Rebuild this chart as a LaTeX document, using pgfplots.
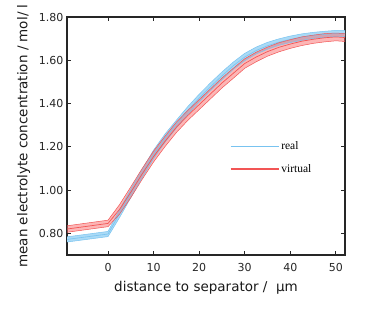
\documentclass[border=0pt]{standalone}
\usepackage{pgfplots}
\pgfplotsset{compat=1.18}
\usepackage{pgfplotstable}
\usepgfplotslibrary{fillbetween}
\usepackage{fontspec}
\setmainfont{DejaVu Sans}
\newfontfamily\legfont{Liberation Serif}
\definecolor{rblue}{RGB}{120,195,240}
\definecolor{rbluefill}{RGB}{170,218,246}
\definecolor{vred}{RGB}{242,85,85}
\definecolor{vredfill}{RGB}{250,110,110}
\pgfplotstableread{
x rc rl ru
-9 0.772 0.760 0.784
0 0.797 0.785 0.809
2.5 0.890 0.872 0.908
5 0.985 0.965 1.005
7.5 1.077 1.057 1.097
10 1.165 1.145 1.185
12.5 1.240 1.221 1.259
15 1.305 1.287 1.323
17.5 1.368 1.350 1.386
20 1.425 1.407 1.443
22.5 1.478 1.460 1.496
25 1.528 1.510 1.546
27.5 1.575 1.558 1.592
30 1.615 1.598 1.632
32.5 1.645 1.629 1.661
35 1.667 1.651 1.683
37.5 1.684 1.669 1.699
40 1.697 1.682 1.712
42.5 1.707 1.692 1.722
45 1.715 1.701 1.729
47.5 1.720 1.706 1.734
50 1.724 1.710 1.738
52 1.724 1.710 1.738
}\realdata
\pgfplotstableread{
x vc vl vu
-9 0.820 0.805 0.835
0 0.846 0.831 0.861
2.5 0.910 0.888 0.932
5 0.990 0.965 1.015
7.5 1.075 1.050 1.100
10 1.155 1.130 1.180
12.5 1.225 1.201 1.249
15 1.290 1.266 1.314
17.5 1.345 1.322 1.368
20 1.395 1.372 1.418
22.5 1.445 1.422 1.468
25 1.495 1.472 1.518
27.5 1.540 1.517 1.563
30 1.585 1.563 1.607
32.5 1.615 1.593 1.637
35 1.640 1.619 1.661
37.5 1.660 1.639 1.681
40 1.675 1.655 1.695
42.5 1.688 1.668 1.708
45 1.697 1.678 1.716
47.5 1.704 1.685 1.723
50 1.708 1.690 1.726
52 1.705 1.687 1.723
}\virtdata
\begin{document}
\begin{tikzpicture}
\begin{axis}[
  scale only axis,
  width=278pt, height=238pt,
  xmin=-9, xmax=52, ymin=0.70, ymax=1.80,
  xtick={0,10,20,30,40,50},
  ytick={0.8,1.0,1.2,1.4,1.6,1.8},
  yticklabel style={/pgf/number format/.cd, fixed, fixed zerofill, precision=2},
  xticklabel style={yshift=-5pt},
  /pgf/number format/assume math mode=true,
  tick align=inside,
  major tick length=4pt,
  axis line style={line width=1.3pt, black!85},
  tick style={line width=1pt, black!85},
  ticklabel style={font=\fontsize{11}{13}\selectfont, black!85},
  xlabel={distance to separator /\ \ µm},
  ylabel={mean electrolyte concentration / mol/ l},
  label style={font=\fontsize{13.5}{15}\selectfont, black!90},
  xlabel style={yshift=-3pt},
  ylabel style={yshift=2pt},
  legend style={draw=none, fill=none, at={(0.586,0.485)}, anchor=north west,
    font=\legfont\fontsize{11.5}{13}\selectfont, row sep=9pt, inner sep=0pt},
  legend cell align=left,
  legend image code/.code={\draw[#1] (0pt,0pt) -- (48pt,0pt);},
  clip=true,
]
\addplot[name path=ru, rblue, line width=0.5pt, forget plot] table[x=x, y=ru]{\realdata};
\addplot[name path=rl, rblue, line width=0.5pt, forget plot] table[x=x, y=rl]{\realdata};
\addplot[rbluefill, forget plot] fill between[of=ru and rl];
\addplot[rblue, line width=0.6pt, forget plot] table[x=x, y=rc]{\realdata};
\addplot[name path=vu, vred, line width=0.5pt, forget plot] table[x=x, y=vu]{\virtdata};
\addplot[name path=vl, vred, line width=0.5pt, forget plot] table[x=x, y=vl]{\virtdata};
\addplot[vredfill, fill opacity=0.5, forget plot] fill between[of=vu and vl];
\addplot[vred, line width=0.7pt, forget plot] table[x=x, y=vc]{\virtdata};
\addlegendimage{rblue, line width=1.2pt}
\addlegendentry{real}
\addlegendimage{vred, line width=1.2pt}
\addlegendentry{virtual}
\end{axis}
\path (current axis.south west) ++(-67pt,-54pt) coordinate (bbsw);
\path (current axis.north east) ++(29pt,17pt) coordinate (bbne);
\useasboundingbox (bbsw) rectangle (bbne);
\end{tikzpicture}
\end{document}
